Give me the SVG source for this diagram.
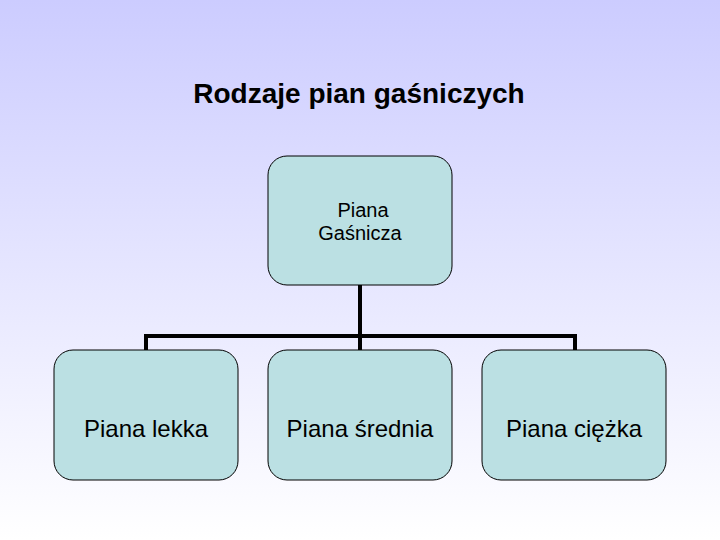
<svg xmlns="http://www.w3.org/2000/svg" width="720" height="540" viewBox="0 0 720 540">
<defs>
<linearGradient id="bg" x1="0" y1="0" x2="0" y2="1">
<stop offset="0" stop-color="#CCCCFF"/>
<stop offset="1" stop-color="#FFFFFF"/>
</linearGradient>
<style>
.box{fill:#BBE0E3;stroke:#000;stroke-width:1}
.conn{fill:none;stroke:#000;stroke-width:4}
.t{font-family:"Liberation Sans",Arial,sans-serif;fill:#000;text-anchor:middle}
</style>
</defs>
<rect width="720" height="540" fill="url(#bg)"/>
<text class="t" x="359" y="103" font-size="28" font-weight="bold">Rodzaje pian gaśniczych</text>
<g id="connectors">
<path class="conn" d="M360 285V350M146 350V336H575V350"/>
</g>
<g id="n-gasnicza">
<rect class="box" x="268" y="156" width="184" height="129" rx="19"/>
<text class="t" x="363" y="217" font-size="20">Piana</text>
<text class="t" x="360" y="240" font-size="20">Gaśnicza</text>
</g>
<g id="n-lekka">
<rect class="box" x="54" y="350" width="184" height="130" rx="19"/>
<text class="t" x="146" y="437" font-size="24">Piana lekka</text>
</g>
<g id="n-srednia">
<rect class="box" x="268" y="350" width="184" height="130" rx="19"/>
<text class="t" x="360" y="437" font-size="24">Piana średnia</text>
</g>
<g id="n-ciezka">
<rect class="box" x="482" y="350" width="184" height="130" rx="19"/>
<text class="t" x="574" y="437" font-size="24">Piana ciężka</text>
</g>
</svg>
